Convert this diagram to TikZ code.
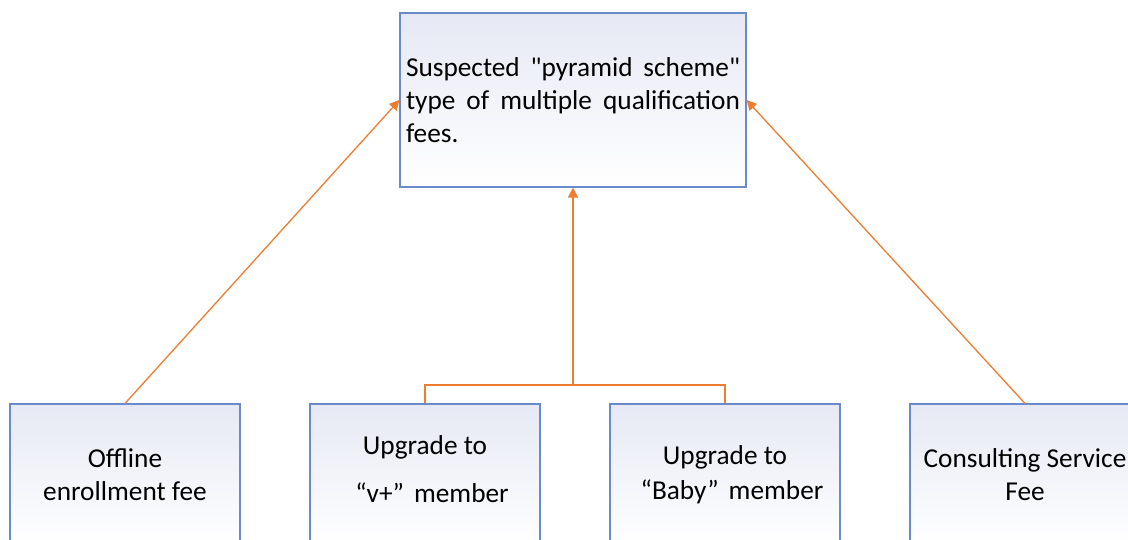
\documentclass[tikz,border=0pt]{standalone}
\usepackage{fontspec}
\setmainfont{Carlito}
\usetikzlibrary{arrows.meta}
\definecolor{boxline}{HTML}{6A8BCB}
\definecolor{boxtop}{HTML}{E6E9F4}
\definecolor{linkline}{HTML}{ED7D31}
\tikzset{
  feebox/.style={draw=boxline, line width=1.1pt, top color=boxtop, bottom color=white,
    minimum width=230, minimum height=142, inner sep=0pt, align=center,
    font=\fontsize{27.3}{33}\selectfont},
  link/.style={draw=linkline, line width=1.3pt},
  linkarrow/.style={link, -{Triangle[length=10pt,width=10pt]}}
}
\begin{document}
\begin{tikzpicture}[x=1pt, y=-1pt]
			%%%%% START %%%%%
			
			\useasboundingbox (0, 0) rectangle (1128, 540);
			
			\node[feebox, minimum width=346, minimum height=174, text width=334, align=left]
				(qual) at (573, 100)
				{\makebox[334pt][l]{Suspected\hfill\textquotedbl pyramid\hfill scheme\textquotedbl}\\
				 \makebox[334pt][l]{type\hfill of\hfill multiple\hfill qualification}\\
				 fees.};
			
			\node[feebox] (offline) at (125, 475) {Offline\\enrollment fee};
			\node[feebox, text depth=11pt] (vplus) at (425, 475)
				{Upgrade to\\[15pt]\hspace*{14pt}“v+”\hspace{10pt}member};
			\node[feebox] (baby) at (725, 475)
				{Upgrade to\\[2pt]\hspace*{14pt}“Baby”\hspace{10pt}member};
			\node[feebox] (consult) at (1025, 475) {Consulting Service\\Fee};
			
			\coordinate (join) at (573, 385);
			
			\draw[linkarrow] (offline.north) -- (qual.west);
			\draw[linkarrow] (consult.north) -- (qual.east);
			\draw[link] (vplus.north) |- (join) -| (baby.north);
			\draw[linkarrow] (join) -- (qual.south);
			
			%%%%% END %%%%%
\end{tikzpicture}
\end{document}
